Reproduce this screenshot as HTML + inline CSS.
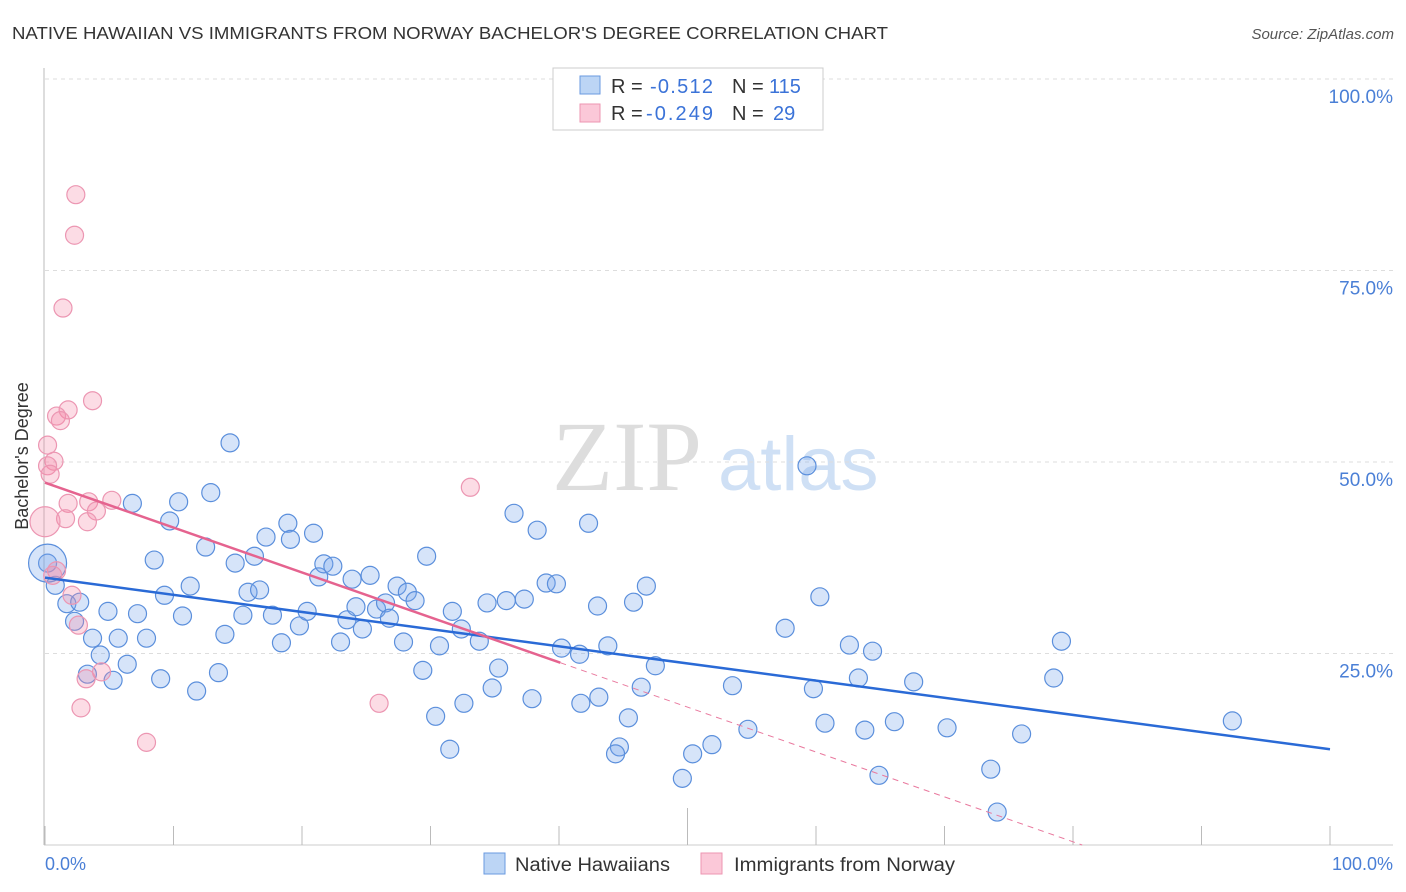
<!DOCTYPE html>
<html><head><meta charset="utf-8"><style>
body{margin:0;background:#fff;font-family:"Liberation Sans",sans-serif;}
svg{display:block}
</style></head><body>
<svg id="chart" width="1406" height="892" viewBox="0 0 1406 892" xmlns="http://www.w3.org/2000/svg">
<text x="12" y="39" font-size="17.5" fill="#333" textLength="876" lengthAdjust="spacingAndGlyphs">NATIVE HAWAIIAN VS IMMIGRANTS FROM NORWAY BACHELOR'S DEGREE CORRELATION CHART</text>
<text x="1394" y="39" font-size="15" fill="#555" font-style="italic" text-anchor="end">Source: ZipAtlas.com</text>
<g>
<text x="552" y="490" font-size="100" font-family="Liberation Serif,serif" fill="#ddd">ZIP</text>
<text x="718" y="490" font-size="76" fill="#cfe0f5">atlas</text>
</g>
<g id="grid"></g>
<line x1="44" y1="68" x2="44" y2="845" stroke="#bbb"/>
<line x1="44" y1="845" x2="1393" y2="845" stroke="#ccc"/>
<g id="xticks"></g>
<text x="28" y="456" font-size="18" fill="#333" text-anchor="middle" transform="rotate(-90 28 456)">Bachelor's Degree</text>
<g id="points"></g>
<g id="trends"></g>
<text x="45" y="870" font-size="18" fill="#4a7fd6">0.0%</text>
<text x="1393" y="870" font-size="18" fill="#4a7fd6" text-anchor="end">100.0%</text>
<g>
<rect x="553" y="68" width="270" height="62" fill="#fff" stroke="#ccc"/>
<rect x="580" y="76" width="20" height="18" fill="#bcd5f5" stroke="#6a9ae0"/>
<rect x="580" y="104" width="20" height="18" fill="#fbc8d8" stroke="#ec96b2"/>
<text x="611" y="93" font-size="20" fill="#333">R = <tspan x="650" fill="#3b73d8" textLength="63">-0.512</tspan><tspan x="732">N = </tspan><tspan x="769" fill="#3b73d8">115</tspan></text>
<text x="611" y="120" font-size="20" fill="#333">R = <tspan x="646" fill="#3b73d8" textLength="67">-0.249</tspan><tspan x="732">N = </tspan><tspan x="773" fill="#3b73d8">29</tspan></text>
</g>
<g>
<rect x="484" y="853" width="21" height="21" fill="#bcd5f5" stroke="#6a9ae0"/>
<text x="515" y="871" font-size="19" fill="#333" textLength="155" lengthAdjust="spacingAndGlyphs">Native Hawaiians</text>
<rect x="701" y="853" width="21" height="21" fill="#fbc8d8" stroke="#ec96b2"/>
<text x="734" y="871" font-size="19" fill="#333" textLength="221" lengthAdjust="spacingAndGlyphs">Immigrants from Norway</text>
</g>
</svg>
<script>
const yTicks=[25,50,75,100];
const yTickLabels=["25.0%","50.0%","75.0%","100.0%"];
const xTicks=[0,10,20,30,40,50,60,70,80,90,100];
const blueX=[0.2,0.8,1.7,2.7,2.3,3.7,4.3,5.7,4.9,3.3,5.3,6.4,7.2,7.9,6.8,8.5,9.0,9.3,9.7,10.4,10.7,11.3,11.8,12.5,12.9,13.5,14.0,14.4,14.8,15.4,15.8,16.3,16.7,17.2,17.7,18.4,18.9,19.1,19.8,20.4,20.9,21.3,21.7,22.4,23.0,23.5,23.9,24.2,24.7,25.3,25.8,26.5,26.8,27.4,27.9,28.2,28.8,29.4,29.7,30.4,30.7,31.5,31.7,32.4,32.6,33.8,34.4,34.8,35.3,35.9,36.5,37.3,37.9,38.3,39.0,39.8,40.2,41.6,41.7,42.3,43.1,43.0,43.8,44.7,44.4,45.4,45.8,46.4,46.8,47.5,49.6,50.4,51.9,53.5,54.7,57.6,59.3,59.8,60.3,60.7,62.6,63.3,63.8,64.4,64.9,66.1,67.6,70.2,73.6,74.1,76.0,78.5,79.1,92.4];
const blueY=[36.8,33.9,31.5,31.7,29.2,27.0,24.8,27.0,30.5,22.3,21.5,23.6,30.2,27.0,44.6,37.2,21.7,32.6,42.3,44.8,29.9,33.8,20.1,38.9,46.0,22.5,27.5,52.5,36.8,30.0,33.0,37.7,33.3,40.2,30.0,26.4,42.0,39.9,28.6,30.5,40.7,35.0,36.7,36.4,26.5,29.4,34.7,31.1,28.2,35.2,30.8,31.6,29.6,33.8,26.5,33.0,31.9,22.8,37.7,16.8,26.0,12.5,30.5,28.2,18.5,26.6,31.6,20.5,23.1,31.9,43.3,32.1,19.1,41.1,34.2,34.1,25.7,24.9,18.5,42.0,19.3,31.2,26.0,12.8,11.9,16.6,31.7,20.6,33.8,23.4,8.7,11.9,13.1,20.8,15.1,28.3,49.5,20.4,32.4,15.9,26.1,21.8,15.0,25.3,9.1,16.1,21.3,15.3,9.9,4.3,14.5,21.8,26.6,16.2];
const pinkX=[2.4,2.3,1.4,3.7,1.8,0.9,1.2,0.2,0.7,0.2,0.4,1.8,1.6,3.4,4.0,5.2,3.3,0.9,0.6,2.1,2.6,4.4,3.2,2.8,7.9,26.0,33.1];
const pinkY=[84.9,79.6,70.1,58.0,56.8,56.0,55.4,52.2,50.1,49.5,48.4,44.6,42.6,44.8,43.6,45.0,42.2,35.8,35.2,32.6,28.7,22.6,21.7,17.9,13.4,18.5,46.7];
const bigBlue=[0.2,36.8];
const bigPink=[0,42.2];
const blueTrend=[34.9,-0.224];
const pinkTrend=[47.3,-0.586];
const pinkSolidEnd=40.1;

const X0=45,X1=1330,Y0=845,Y100=79;
function sx(v){return X0+(X1-X0)*v/100;}
function sy(v){return Y0-(Y0-Y100)*v/100;}
const NS="http://www.w3.org/2000/svg";
function mk(t,a,p){const e=document.createElementNS(NS,t);for(const k in a)e.setAttribute(k,a[k]);p.appendChild(e);return e;}
const grid=document.getElementById('grid');
yTicks.forEach((t,i)=>{
  const l=mk('line',{x1:45,x2:1393,y1:sy(t),y2:sy(t),stroke:'#ddd','stroke-dasharray':'4,4'},grid);
  
  
  const tx=mk('text',{x:1393,y:sy(t)+24,'font-size':19,fill:'#4a7fd6','text-anchor':'end'},grid);
  tx.textContent=yTickLabels[i];
  
  
});
const xt=document.getElementById('xticks');
xTicks.forEach(t=>{
  const l=mk('line',{x1:sx(t),x2:sx(t),y1:t===50?808:826,y2:845,stroke:'#bbb'},xt);
  
  
});
const pts=document.getElementById('points');
blueX.forEach((x,i)=>{
  const c=mk('circle',{cx:sx(x),cy:sy(blueY[i]),r:9,fill:'rgba(120,165,235,0.3)',stroke:'#5b8fdc','stroke-width':1.2},pts);
  
  
});
const bb=mk('circle',{cx:sx(bigBlue[0]),cy:sy(bigBlue[1]),r:19,fill:'rgba(120,165,235,0.3)',stroke:'#5b8fdc','stroke-width':1.2},pts);


pinkX.forEach((x,i)=>{
  const c=mk('circle',{cx:sx(x),cy:sy(pinkY[i]),r:9,fill:'rgba(245,140,170,0.3)',stroke:'#ec96b2','stroke-width':1.2},pts);
  
  
});
const bp=mk('circle',{cx:sx(bigPink[0]),cy:sy(bigPink[1]),r:15,fill:'rgba(245,140,170,0.3)',stroke:'#ec96b2','stroke-width':1.2},pts);


const tr=document.getElementById('trends');
const bl=mk('line',{x1:sx(0),y1:sy(blueTrend[0]),x2:sx(100),y2:sy(blueTrend[0]+blueTrend[1]*100),stroke:'#2a6ad6','stroke-width':2.5},tr);


const pxEnd=-pinkTrend[0]/pinkTrend[1];
const pd=mk('line',{x1:sx(pinkSolidEnd),y1:sy(pinkTrend[0]+pinkTrend[1]*pinkSolidEnd),x2:sx(pxEnd),y2:sy(0),stroke:'#e9799e','stroke-width':1,'stroke-dasharray':'6,5'},tr);


const pl=mk('line',{x1:sx(0),y1:sy(pinkTrend[0]),x2:sx(pinkSolidEnd),y2:sy(pinkTrend[0]+pinkTrend[1]*pinkSolidEnd),stroke:'#e5638f','stroke-width':2.5},tr);


</script>
</body></html>
